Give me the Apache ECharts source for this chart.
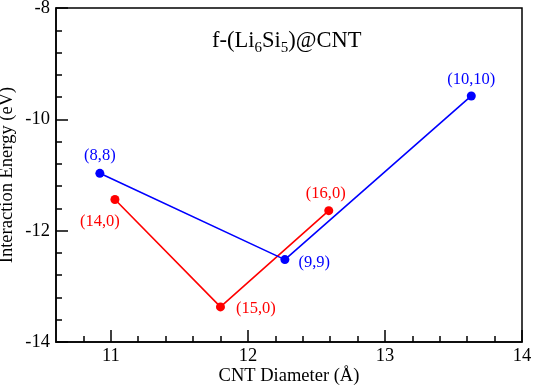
<!DOCTYPE html>
<html>
<head>
<meta charset="utf-8">
<script src="https://cdn.jsdelivr.net/npm/echarts@6/dist/echarts.min.js"></script>
<style>
  html, body { margin: 0; padding: 0; background: #fff; }
  #chart { width: 533px; height: 390px; }
</style>
</head>
<body>
<div id="chart"></div>
<script>
// Données
const armchairX = [10.92, 12.27, 13.63];
const armchairY = [-10.97, -12.52, -9.58];
const armchairNames = ["(8,8)", "(9,9)", "(10,10)"];

const zigzagX = [11.03, 11.80, 12.59];
const zigzagY = [-11.44, -13.37, -11.64];
const zigzagNames = ["(14,0)", "(15,0)", "(16,0)"];

const xMajor = [11, 12, 13, 14];
const xMinor = [10.8, 11.2, 11.4, 11.6, 11.8, 12.2, 12.4, 12.6, 12.8, 13.2, 13.4, 13.6, 13.8];
const yMajor = [-14, -12, -10, -8];
const yMinor = [-13.6, -13.2, -12.8, -12.4, -11.6, -11.2, -10.8, -10.4, -9.6, -9.2, -8.8, -8.4];

const FONT = "Liberation Serif";

// placement des étiquettes (style, pas des données)
const armchairLabelPos = [
  { position: "top", distance: 5 },
  { position: "right", offset: [0, 3], distance: 9 },
  { position: "top", distance: 3 },
];
const zigzagLabelPos = [
  { position: "bottom", offset: [-15, 4], distance: 5 },
  { position: "right", offset: [0, 2], distance: 11 },
  { position: "top", offset: [-3, 2], distance: 6 },
];

function buildData(xs, ys, names, pos) {
  return xs.map((x, i) => ({
    value: [x, ys[i]],
    label: Object.assign({ show: true, formatter: names[i] }, pos[i]),
  }));
}

function series(data, color) {
  return {
    type: "line",
    data: data,
    symbol: "circle",
    symbolSize: 9,
    lineStyle: { color: color, width: 1.6 },
    itemStyle: { color: color },
    label: { color: color, fontFamily: FONT, fontSize: 16.5 },
    animation: false,
  };
}

const axisCommon = {
  axisLine: { show: true, onZero: false, lineStyle: { color: "#000", width: 1.5 } },
  splitLine: { show: false },
};

const chart = echarts.init(document.getElementById("chart"));
chart.setOption({
  backgroundColor: "#fff",
  grid: {
    left: 56, top: 8, right: 11, bottom: 48,
    containLabel: false, outerBoundsMode: "none",
    show: true, borderColor: "#000", borderWidth: 1.5,
  },
  graphic: [{
    type: "text",
    left: 212,
    top: 30,
    style: {
      text: "f-(Li{s|6}Si{s|5})@CNT",
      fontFamily: FONT,
      fontSize: 22.5,
      fill: "#000",
      rich: { s: { fontFamily: FONT, fontSize: 15, verticalAlign: "bottom", padding: [14, 0, 0, 0] } },
    },
  }],
  xAxis: [
    Object.assign({}, axisCommon, {
      type: "value", min: 10.6, max: 14,
      name: "CNT Diameter (Å)", nameLocation: "middle", nameGap: 25, nameMoveOverlap: false,
      nameTextStyle: { fontFamily: FONT, fontSize: 18.5, color: "#000" },
      axisTick: { show: true, inside: true, length: 12, customValues: xMajor, lineStyle: { color: "#000", width: 1.5 } },
      axisLabel: { customValues: xMajor, fontFamily: FONT, fontSize: 18.5, color: "#000", margin: 5 },
    }),
    Object.assign({}, axisCommon, {
      type: "value", min: 10.6, max: 14, position: "bottom",
      axisLine: { show: false },
      axisTick: { show: true, inside: true, length: 6, customValues: xMinor, lineStyle: { color: "#000", width: 1.5 } },
      axisLabel: { show: false },
    }),
  ],
  yAxis: [
    Object.assign({}, axisCommon, {
      type: "value", min: -14, max: -8,
      name: "Interaction Energy (eV)", nameLocation: "middle", nameGap: 39, nameMoveOverlap: false,
      nameTextStyle: { fontFamily: FONT, fontSize: 18.5, color: "#000" },
      axisTick: { show: true, inside: true, length: 12, customValues: yMajor, lineStyle: { color: "#000", width: 1.5 } },
      axisLabel: { customValues: yMajor, fontFamily: FONT, fontSize: 18.5, color: "#000", margin: 6 },
    }),
    Object.assign({}, axisCommon, {
      type: "value", min: -14, max: -8, position: "left",
      axisLine: { show: false },
      axisTick: { show: true, inside: true, length: 6, customValues: yMinor, lineStyle: { color: "#000", width: 1.5 } },
      axisLabel: { show: false },
    }),
  ],
  series: [
    series(buildData(zigzagX, zigzagY, zigzagNames, zigzagLabelPos), "#ff0000"),
    series(buildData(armchairX, armchairY, armchairNames, armchairLabelPos), "#0000ff"),
  ],
});
</script>
</body>
</html>
